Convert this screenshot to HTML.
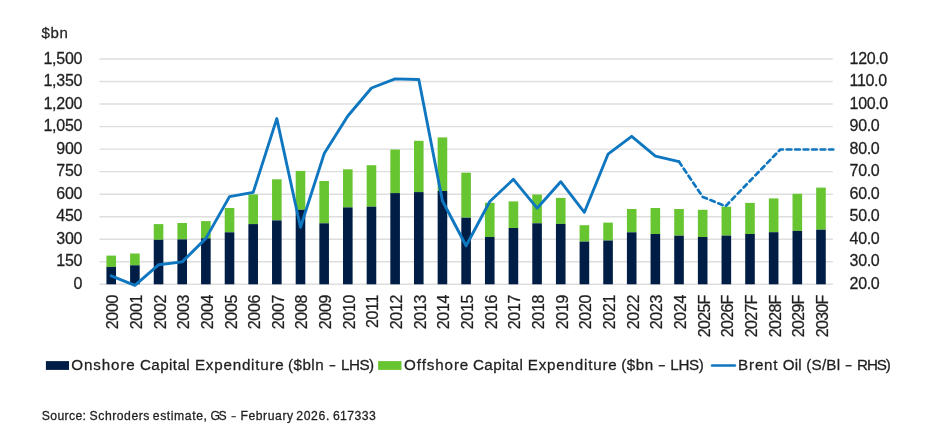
<!DOCTYPE html>
<html lang="en"><head><meta charset="utf-8"><title>Chart</title>
<style>
html,body{margin:0;padding:0;background:#fff;}
body{width:930px;height:432px;overflow:hidden;}
svg{display:block;filter:blur(0.45px);}
text{font-family:"Liberation Sans",sans-serif;fill:#1f1f1f;stroke:#1f1f1f;stroke-width:0.28px;}
</style></head><body>
<svg width="930" height="432" viewBox="0 0 930 432">
<rect width="930" height="432" fill="#fff"/>
<g stroke="#dedede" stroke-width="1.4">
<line x1="99.4" y1="284.30" x2="832.8" y2="284.30"/>
<line x1="99.4" y1="261.77" x2="832.8" y2="261.77"/>
<line x1="99.4" y1="239.24" x2="832.8" y2="239.24"/>
<line x1="99.4" y1="216.71" x2="832.8" y2="216.71"/>
<line x1="99.4" y1="194.18" x2="832.8" y2="194.18"/>
<line x1="99.4" y1="171.65" x2="832.8" y2="171.65"/>
<line x1="99.4" y1="149.12" x2="832.8" y2="149.12"/>
<line x1="99.4" y1="126.59" x2="832.8" y2="126.59"/>
<line x1="99.4" y1="104.06" x2="832.8" y2="104.06"/>
<line x1="99.4" y1="81.53" x2="832.8" y2="81.53"/>
<line x1="99.4" y1="59.00" x2="832.8" y2="59.00"/>
</g>
<g font-size="16" text-anchor="end" letter-spacing="-0.25">
<text x="82.2" y="288.95">0</text>
<text x="82.2" y="266.42">150</text>
<text x="82.2" y="243.89">300</text>
<text x="82.2" y="221.36">450</text>
<text x="82.2" y="198.83">600</text>
<text x="82.2" y="176.30">750</text>
<text x="82.2" y="153.77">900</text>
<text x="82.2" y="131.24">1,050</text>
<text x="82.2" y="108.71">1,200</text>
<text x="82.2" y="86.18">1,350</text>
<text x="82.2" y="63.65">1,500</text>
</g>
<text x="41.6" y="37.9" font-size="15" textLength="26.2">$bn</text>
<g font-size="16" letter-spacing="-0.35">
<text x="849.6" y="288.95">20.0</text>
<text x="849.6" y="266.42">30.0</text>
<text x="849.6" y="243.89">40.0</text>
<text x="849.6" y="221.36">50.0</text>
<text x="849.6" y="198.83">60.0</text>
<text x="849.6" y="176.30">70.0</text>
<text x="849.6" y="153.77">80.0</text>
<text x="849.6" y="131.24">90.0</text>
<text x="849.6" y="108.71">100.0</text>
<text x="849.6" y="86.18">110.0</text>
<text x="849.6" y="63.65">120.0</text>
</g>
<g fill="#68c532">
<rect x="106.43" y="255.60" width="9.6" height="11.30"/>
<rect x="130.09" y="253.50" width="9.6" height="11.80"/>
<rect x="153.75" y="224.10" width="9.6" height="15.70"/>
<rect x="177.40" y="223.00" width="9.6" height="16.40"/>
<rect x="201.06" y="221.10" width="9.6" height="17.20"/>
<rect x="224.72" y="208.00" width="9.6" height="24.30"/>
<rect x="248.38" y="194.40" width="9.6" height="29.70"/>
<rect x="272.04" y="179.30" width="9.6" height="41.10"/>
<rect x="295.69" y="170.90" width="9.6" height="38.90"/>
<rect x="319.35" y="181.00" width="9.6" height="42.30"/>
<rect x="343.01" y="169.30" width="9.6" height="38.10"/>
<rect x="366.67" y="165.20" width="9.6" height="41.50"/>
<rect x="390.33" y="149.50" width="9.6" height="43.60"/>
<rect x="413.98" y="140.80" width="9.6" height="51.30"/>
<rect x="437.64" y="137.40" width="9.6" height="53.60"/>
<rect x="461.30" y="172.70" width="9.6" height="45.00"/>
<rect x="484.96" y="202.80" width="9.6" height="34.20"/>
<rect x="508.62" y="201.40" width="9.6" height="26.60"/>
<rect x="532.27" y="194.50" width="9.6" height="28.80"/>
<rect x="555.93" y="197.90" width="9.6" height="26.00"/>
<rect x="579.59" y="225.20" width="9.6" height="16.40"/>
<rect x="603.25" y="222.60" width="9.6" height="17.90"/>
<rect x="626.91" y="209.00" width="9.6" height="23.30"/>
<rect x="650.56" y="208.00" width="9.6" height="26.00"/>
<rect x="674.22" y="209.00" width="9.6" height="26.70"/>
<rect x="697.88" y="209.80" width="9.6" height="27.20"/>
<rect x="721.54" y="206.70" width="9.6" height="28.90"/>
<rect x="745.20" y="202.90" width="9.6" height="31.10"/>
<rect x="768.85" y="198.40" width="9.6" height="33.80"/>
<rect x="792.51" y="193.75" width="9.6" height="37.15"/>
<rect x="816.17" y="187.60" width="9.6" height="42.10"/>
</g>
<g fill="#001e45">
<rect x="106.43" y="266.90" width="9.6" height="17.40"/>
<rect x="130.09" y="265.30" width="9.6" height="19.00"/>
<rect x="153.75" y="239.80" width="9.6" height="44.50"/>
<rect x="177.40" y="239.40" width="9.6" height="44.90"/>
<rect x="201.06" y="238.30" width="9.6" height="46.00"/>
<rect x="224.72" y="232.30" width="9.6" height="52.00"/>
<rect x="248.38" y="224.10" width="9.6" height="60.20"/>
<rect x="272.04" y="220.40" width="9.6" height="63.90"/>
<rect x="295.69" y="209.80" width="9.6" height="74.50"/>
<rect x="319.35" y="223.30" width="9.6" height="61.00"/>
<rect x="343.01" y="207.40" width="9.6" height="76.90"/>
<rect x="366.67" y="206.70" width="9.6" height="77.60"/>
<rect x="390.33" y="193.10" width="9.6" height="91.20"/>
<rect x="413.98" y="192.10" width="9.6" height="92.20"/>
<rect x="437.64" y="191.00" width="9.6" height="93.30"/>
<rect x="461.30" y="217.70" width="9.6" height="66.60"/>
<rect x="484.96" y="237.00" width="9.6" height="47.30"/>
<rect x="508.62" y="228.00" width="9.6" height="56.30"/>
<rect x="532.27" y="223.30" width="9.6" height="61.00"/>
<rect x="555.93" y="223.90" width="9.6" height="60.40"/>
<rect x="579.59" y="241.60" width="9.6" height="42.70"/>
<rect x="603.25" y="240.50" width="9.6" height="43.80"/>
<rect x="626.91" y="232.30" width="9.6" height="52.00"/>
<rect x="650.56" y="234.00" width="9.6" height="50.30"/>
<rect x="674.22" y="235.70" width="9.6" height="48.60"/>
<rect x="697.88" y="237.00" width="9.6" height="47.30"/>
<rect x="721.54" y="235.60" width="9.6" height="48.70"/>
<rect x="745.20" y="234.00" width="9.6" height="50.30"/>
<rect x="768.85" y="232.20" width="9.6" height="52.10"/>
<rect x="792.51" y="230.90" width="9.6" height="53.40"/>
<rect x="816.17" y="229.70" width="9.6" height="54.60"/>
</g>
<polyline points="111.2,275.8 134.9,285.3 158.5,264.8 182.2,261.9 205.9,238.4 229.5,196.6 253.2,192.4 276.8,118.6 300.5,227.2 324.2,153.6 347.8,116.0 371.5,88.0 395.1,78.9 418.8,79.5 442.4,200.7 466.1,245.7 489.8,201.5 513.4,179.3 537.1,208.2 560.7,181.7 584.4,212.3 608.0,154.2 631.7,136.3 655.4,156.1 679.0,161.7" fill="none" stroke="#0f77c0" stroke-width="2.9" stroke-linejoin="round" stroke-linecap="round"/>
<polyline points="679.0,161.7 702.7,196.9 725.5,206.3 780.3,149.5 833.3,149.5" fill="none" stroke="#0f77c0" stroke-width="2.7" stroke-linejoin="round" stroke-linecap="round" stroke-dasharray="4.6 3.87"/>
<g font-size="16" text-anchor="end" letter-spacing="-0.3">
<text transform="translate(118.23,294.9) rotate(-90)">2000</text>
<text transform="translate(141.89,294.9) rotate(-90)">2001</text>
<text transform="translate(165.55,294.9) rotate(-90)">2002</text>
<text transform="translate(189.20,294.9) rotate(-90)">2003</text>
<text transform="translate(212.86,294.9) rotate(-90)">2004</text>
<text transform="translate(236.52,294.9) rotate(-90)">2005</text>
<text transform="translate(260.18,294.9) rotate(-90)">2006</text>
<text transform="translate(283.84,294.9) rotate(-90)">2007</text>
<text transform="translate(307.49,294.9) rotate(-90)">2008</text>
<text transform="translate(331.15,294.9) rotate(-90)">2009</text>
<text transform="translate(354.81,294.9) rotate(-90)">2010</text>
<text transform="translate(378.47,294.9) rotate(-90)">2011</text>
<text transform="translate(402.13,294.9) rotate(-90)">2012</text>
<text transform="translate(425.78,294.9) rotate(-90)">2013</text>
<text transform="translate(449.44,294.9) rotate(-90)">2014</text>
<text transform="translate(473.10,294.9) rotate(-90)">2015</text>
<text transform="translate(496.76,294.9) rotate(-90)">2016</text>
<text transform="translate(520.42,294.9) rotate(-90)">2017</text>
<text transform="translate(544.07,294.9) rotate(-90)">2018</text>
<text transform="translate(567.73,294.9) rotate(-90)">2019</text>
<text transform="translate(591.39,294.9) rotate(-90)">2020</text>
<text transform="translate(615.05,294.9) rotate(-90)">2021</text>
<text transform="translate(638.71,294.9) rotate(-90)">2022</text>
<text transform="translate(662.36,294.9) rotate(-90)">2023</text>
<text transform="translate(686.02,294.9) rotate(-90)">2024</text>
<text transform="translate(709.68,294.9) rotate(-90)" textLength="42.4">2025F</text>
<text transform="translate(733.34,294.9) rotate(-90)" textLength="42.4">2026F</text>
<text transform="translate(757.00,294.9) rotate(-90)" textLength="42.4">2027F</text>
<text transform="translate(780.65,294.9) rotate(-90)" textLength="42.4">2028F</text>
<text transform="translate(804.31,294.9) rotate(-90)" textLength="42.4">2029F</text>
<text transform="translate(827.97,294.9) rotate(-90)" textLength="42.4">2030F</text>
</g>
<rect x="45.9" y="361.1" width="23.1" height="8.8" fill="#001e45"/>
<text x="71.2" y="370.3" font-size="15.2" textLength="63.6">Onshore</text>
<text x="140.0" y="370.3" font-size="15.2" textLength="49.6">Capital</text>
<text x="194.9" y="370.3" font-size="15.2" textLength="88.9">Expenditure</text>
<text x="288.0" y="370.3" font-size="15.2" textLength="35.6">($bln</text>
<rect x="329.5" y="365.07" width="5.8" height="1.35" fill="#1f1f1f"/>
<text x="341.1" y="370.3" font-size="15.2" textLength="33.0">LHS)</text>
<rect x="378.1" y="361.1" width="23.4" height="8.8" fill="#68c532"/>
<text x="404.1" y="370.3" font-size="15.2" textLength="64.2">Offshore</text>
<text x="472.9" y="370.3" font-size="15.2" textLength="50.0">Capital</text>
<text x="527.7" y="370.3" font-size="15.2" textLength="89.0">Expenditure</text>
<text x="621.3" y="370.3" font-size="15.2" textLength="31.9">($bn</text>
<rect x="658.7" y="365.07" width="6.2" height="1.35" fill="#1f1f1f"/>
<text x="670.3" y="370.3" font-size="15.2" textLength="33.5">LHS)</text>
<line x1="712.1" y1="365.5" x2="734.8" y2="365.5" stroke="#0f77c0" stroke-width="2.7" stroke-linecap="round"/>
<text x="738.1" y="370.3" font-size="15.2" textLength="39.5">Brent</text>
<text x="782.8" y="370.3" font-size="15.2" textLength="18.9">Oil</text>
<text x="806.3" y="370.3" font-size="15.2" textLength="33.7">(S/Bl</text>
<rect x="845.6" y="365.07" width="6.0" height="1.35" fill="#1f1f1f"/>
<text x="857.0" y="370.3" font-size="15.2" textLength="33.9">RHS)</text>
<text x="41.8" y="420.3" font-size="12.2" textLength="44.1">Source:</text>
<text x="89.6" y="420.3" font-size="12.2" textLength="59.8">Schroders</text>
<text x="152.8" y="420.3" font-size="12.2" textLength="54.1">estimate,</text>
<text x="210.4" y="420.3" font-size="12.2" textLength="16.3">GS</text>
<rect x="231.4" y="416.18" width="4.4" height="1.05" fill="#1f1f1f"/>
<text x="240.4" y="420.3" font-size="12.2" textLength="52.7">February</text>
<text x="296.2" y="420.3" font-size="12.2" textLength="33.1">2026.</text>
<text x="332.9" y="420.3" font-size="12.2" textLength="42.8">617333</text>
</svg>
</body></html>
